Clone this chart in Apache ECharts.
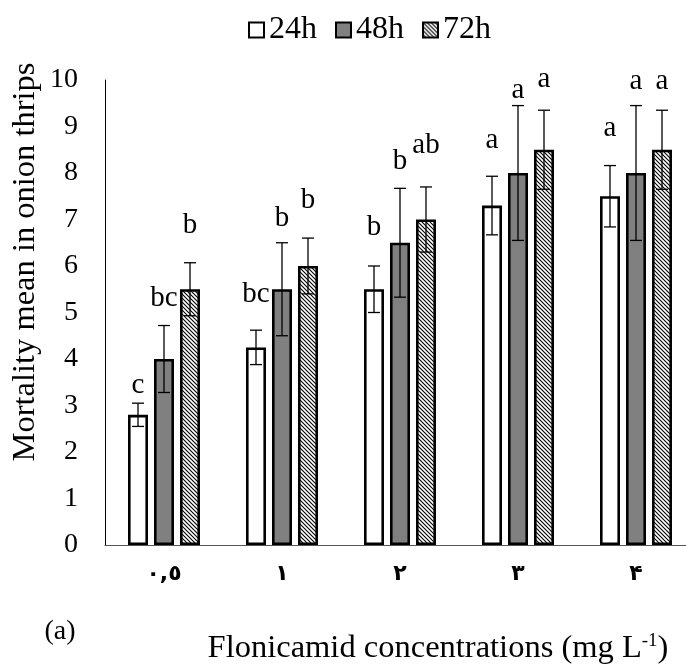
<!DOCTYPE html>
<html>
<head>
<meta charset="utf-8">
<script src="https://cdn.jsdelivr.net/npm/echarts@6/dist/echarts.min.js"></script>
<style>
html,body{margin:0;padding:0;background:#fff;}
#chart{width:686px;height:669px;}
</style>
</head>
<body>
<div id="chart"></div>
<script>
// ---- data ----
var categories = ['٠,٥', '١', '٢', '٣', '۴'];
var seriesNames = ['24h', '48h', '72h'];
var mean24 = [2.8, 4.25, 5.5, 7.3, 7.5];
var err24  = [0.25, 0.37, 0.5, 0.63, 0.66];
var mean48 = [4.0, 5.5, 6.5, 8.0, 8.0];
var err48  = [0.72, 1.0, 1.17, 1.45, 1.45];
var mean72 = [5.5, 6.0, 7.0, 8.5, 8.5];
var err72  = [0.57, 0.6, 0.7, 0.85, 0.85];
var letters24 = ['c', 'bc', 'b', 'a', 'a'];
var letters48 = ['bc', 'b', 'b', 'a', 'a'];
var letters72 = ['b', 'b', 'ab', 'a', 'a'];
var letterAt24 = [3.44, 5.38, 6.82, 8.71, 8.95];
var letterAt48 = [5.31, 7.03, 8.24, 9.78, 9.98];
var letterAt72 = [6.88, 7.42, 8.6, 10.02, 9.96];
var yTicks = [0, 1, 2, 3, 4, 5, 6, 7, 8, 9, 10];

// ---- styling ----
var SERIF = "'Liberation Serif', 'Times New Roman', serif";
var BAR_W = 20, BAR_GAP = 0.3;
var STEP = BAR_W * (1 + BAR_GAP);

function hatch() {
  var s = 4;
  var c = document.createElement('canvas');
  c.width = s; c.height = s;
  var g = c.getContext('2d');
  g.fillStyle = '#fff';
  g.fillRect(0, 0, s, s);
  g.strokeStyle = '#000';
  g.lineWidth = 1.1;
  g.beginPath();
  g.moveTo(-1, -1); g.lineTo(s + 1, s + 1);
  g.moveTo(s - 1, -1); g.lineTo(s + 1, 1);
  g.moveTo(-1, s - 1); g.lineTo(1, s + 1);
  g.stroke();
  return {image: c, repeat: 'repeat'};
}

var fills = ['#ffffff', '#808080', hatch()];
var means = [mean24, mean48, mean72];
var errs = [err24, err48, err72];
var letters = [letters24, letters48, letters72];
var letterAts = [letterAt24, letterAt48, letterAt72];

var series = [];
seriesNames.forEach(function (name, k) {
  series.push({
    name: name,
    type: 'bar',
    barWidth: BAR_W,
    barGap: (BAR_GAP * 100) + '%',
    data: means[k],
    itemStyle: {color: fills[k], borderColor: '#000', borderWidth: 2.6},
    z: 2
  });
});
seriesNames.forEach(function (name, k) {
  var data = means[k].map(function (m, i) { return [i, m, errs[k][i], letterAts[k][i]]; });
  series.push({
    type: 'custom',
    name: name + ' err',
    z: 5,
    clip: false,
    silent: true,
    data: data,
    renderItem: function (params, api) {
      var i = api.value(0);
      var m = api.value(1), e = api.value(2), la = api.value(3);
      var dx = (k - 1) * STEP;
      var top = api.coord([i, m + e]);
      var bot = api.coord([i, m - e]);
      var lab = api.coord([i, la]);
      var x = top[0] + dx;
      var cap = 6;
      var st = {stroke: '#000', lineWidth: 1.3};
      return {
        type: 'group',
        children: [
          {type: 'line', shape: {x1: x, y1: top[1], x2: x, y2: bot[1]}, style: st},
          {type: 'line', shape: {x1: x - cap, y1: top[1], x2: x + cap, y2: top[1]}, style: st},
          {type: 'line', shape: {x1: x - cap, y1: bot[1], x2: x + cap, y2: bot[1]}, style: st},
          {type: 'text', x: x, y: lab[1], style: {
            text: letters[k][params.dataIndex], fill: '#000',
            font: '29px ' + SERIF, align: 'center', verticalAlign: 'middle'
          }}
        ]
      };
    }
  });
});

var chart = echarts.init(document.getElementById('chart'));
chart.setOption({
  animation: false,
  backgroundColor: '#fff',
  legend: {
    data: seriesNames,
    top: 9,
    left: 243,
    itemWidth: 15,
    itemHeight: 15,
    itemGap: 18,
    icon: 'rect',
    textStyle: {fontFamily: SERIF, fontSize: 32, color: '#000'}
  },
  grid: {left: 105, top: 80, width: 590, bottom: 124, containLabel: false, outerBoundsMode: 'none'},
  xAxis: {
    type: 'category',
    data: categories,
    axisLine: {show: true, lineStyle: {color: '#555', width: 1.2}},
    axisTick: {show: false},
    axisLabel: {fontFamily: "'DejaVu Sans'", fontSize: 22, fontWeight: 'bold', color: '#000', margin: 18}
  },
  yAxis: {
    type: 'value',
    min: yTicks[0],
    max: yTicks[yTicks.length - 1],
    interval: 1,
    axisLine: {show: true, lineStyle: {color: '#000', width: 1}},
    axisTick: {show: false},
    splitLine: {show: false},
    axisLabel: {fontFamily: SERIF, fontSize: 28, color: '#000', margin: 27}
  },
  graphic: [
    {type: 'text', x: 25, y: 262, rotation: Math.PI / 2,
      style: {text: 'Mortality mean in onion thrips', font: '32.5px ' + SERIF, fill: '#000',
        align: 'center', verticalAlign: 'middle'}},
    {type: 'text', x: 60, y: 632,
      style: {text: '(a)', font: '28px ' + SERIF, fill: '#000', align: 'center', verticalAlign: 'middle'}},
    {type: 'text', x: 438, y: 648,
      style: {
        text: 'Flonicamid concentrations (mg L{sup|-1})',
        font: '32.5px ' + SERIF, fill: '#000', align: 'center', verticalAlign: 'middle',
        rich: {sup: {fontSize: 19, fontFamily: SERIF, verticalAlign: 'top', padding: [0, 0, 12, 0]}}
      }}
  ],
  series: series
});
</script>
</body>
</html>
